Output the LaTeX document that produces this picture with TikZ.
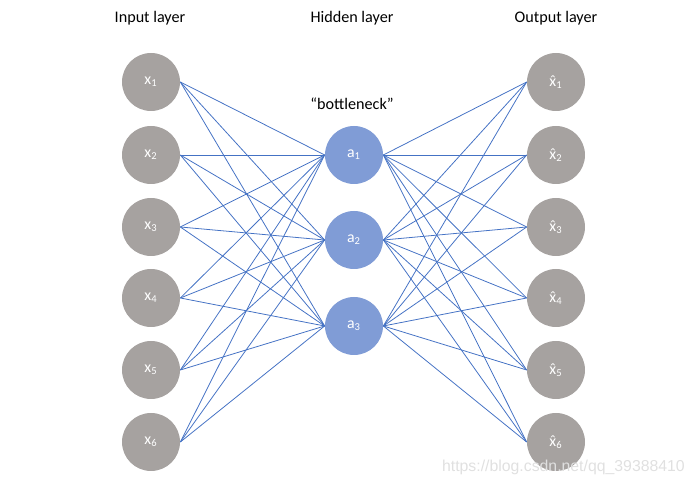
\documentclass[tikz,border=0pt]{standalone}
\usepackage{fontspec}
\setmainfont{Carlito}
\newfontfamily\markfont{Liberation Sans}
\usepackage{tikz}
\usetikzlibrary{positioning}
\definecolor{unitgray}{RGB}{166,162,160}
\definecolor{unitblue}{RGB}{128,156,214}
\definecolor{edgeblue}{RGB}{68,114,196}
\newcommand{\xhat}{{\accent"02C6 x}}

\begin{document}
\begin{tikzpicture}[
  every node/.style={align=center},
  unit/.style={circle, minimum size=1.16cm, inner sep=0pt, fill=#1, text=white,
               font=\fontsize{9}{10}\selectfont},
  layerlbl/.style={font=\fontsize{9.2}{11}\selectfont},
  edge/.style={draw=edgeblue, line width=0.45pt},
]
\useasboundingbox (0,0) rectangle (14,9.68);

%% Layer titles
\node[layerlbl] (inlbl) at (3.0, 9.32) {Input layer};
\node[layerlbl] (hidlbl) at (7.04, 9.32) {Hidden layer};
\node[layerlbl] (outlbl) at (11.12, 9.32) {Output layer};
\node[layerlbl] (neck) at (7.04, 7.6) {``bottleneck''};

%% Input layer
\node[unit=unitgray] (x1) at (3.02, 8.04) {x\textsubscript{1}};
\node[unit=unitgray] (x2) at (3.02, 6.58) {x\textsubscript{2}};
\node[unit=unitgray] (x3) at (3.02, 5.14) {x\textsubscript{3}};
\node[unit=unitgray] (x4) at (3.02, 3.72) {x\textsubscript{4}};
\node[unit=unitgray] (x5) at (3.02, 2.28) {x\textsubscript{5}};
\node[unit=unitgray] (x6) at (3.02, 0.84) {x\textsubscript{6}};

%% Hidden layer
\node[unit=unitblue] (a1) at (7.08, 6.58) {a\textsubscript{1}};
\node[unit=unitblue] (a2) at (7.08, 4.88) {a\textsubscript{2}};
\node[unit=unitblue] (a3) at (7.08, 3.16) {a\textsubscript{3}};

%% Output layer
\node[unit=unitgray] (y1) at (11.12, 8.04) {\xhat\textsubscript{1}};
\node[unit=unitgray] (y2) at (11.12, 6.58) {\xhat\textsubscript{2}};
\node[unit=unitgray] (y3) at (11.12, 5.14) {\xhat\textsubscript{3}};
\node[unit=unitgray] (y4) at (11.12, 3.72) {\xhat\textsubscript{4}};
\node[unit=unitgray] (y5) at (11.12, 2.28) {\xhat\textsubscript{5}};
\node[unit=unitgray] (y6) at (11.12, 0.84) {\xhat\textsubscript{6}};

%% Connections
\foreach \i in {1,...,6}
  \foreach \j in {1,2,3} {
    \draw[edge] (x\i.east) -- (a\j.west);
    \draw[edge] (a\j.east) -- (y\i.west);
  }

\node[font=\markfont\fontsize{9}{10}\selectfont, text=black!12, anchor=east]
  (mark) at (13.82, 0.34) {https://blog.csdn.net/qq\_39388410};

\end{tikzpicture}
\end{document}
